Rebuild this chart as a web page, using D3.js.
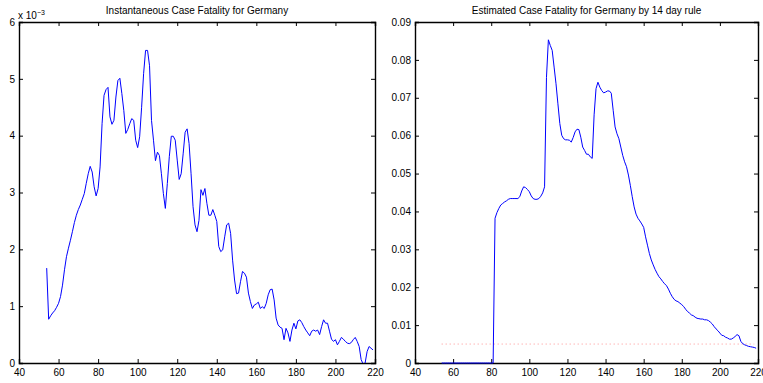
<!DOCTYPE html>
<html>
<head>
<meta charset="utf-8">
<script src="https://cdn.jsdelivr.net/npm/d3@7"></script>
<style>
  body { margin: 0; background: #fff; }
  svg { display: block; font-family: "Liberation Sans", Arial, sans-serif; }
  .axis path, .axis line { stroke: #000; }
  .axis text { fill: #000; font-size: 10px; }
</style>
</head>
<body>
<script>
// instantaneous case fatality, in units of 1e-3, days 54..219
const instStart = 54
const instValues = [
  1.67, 0.77, 0.83, 0.88, 0.92, 0.98, 1.05, 1.17, 1.37, 1.64,
  1.87, 2.02, 2.16, 2.31, 2.47, 2.60, 2.70, 2.78, 2.88, 2.98,
  3.16, 3.33, 3.46, 3.36, 3.10, 2.94, 3.07, 3.45, 4.21, 4.71,
  4.81, 4.85, 4.33, 4.20, 4.27, 4.68, 4.97, 5.01, 4.74, 4.44,
  4.04, 4.11, 4.21, 4.30, 4.27, 3.92, 3.79, 3.98, 4.50, 5.09,
  5.50, 5.50, 5.23, 4.27, 3.92, 3.56, 3.71, 3.65, 3.33, 2.98,
  2.72, 3.16, 3.63, 3.99, 3.99, 3.92, 3.57, 3.23, 3.33, 3.68,
  4.06, 4.12, 3.86, 3.33, 2.75, 2.43, 2.31, 2.51, 3.05, 2.95,
  3.07, 2.81, 2.60, 2.60, 2.70, 2.60, 2.49, 2.05, 1.96, 1.99,
  2.22, 2.43, 2.46, 2.28, 1.81, 1.46, 1.22, 1.23, 1.43, 1.61,
  1.58, 1.51, 1.23, 1.08, 0.96, 1.02, 1.04, 1.07, 0.96, 0.99,
  0.96, 1.05, 1.20, 1.29, 1.30, 1.11, 0.79, 0.67, 0.63, 0.61,
  0.41, 0.61, 0.53, 0.38, 0.58, 0.70, 0.60, 0.74, 0.76, 0.71,
  0.64, 0.58, 0.53, 0.48, 0.56, 0.58, 0.56, 0.58, 0.50, 0.64,
  0.76, 0.70, 0.70, 0.56, 0.42, 0.38, 0.41, 0.32, 0.38, 0.45,
  0.42, 0.38, 0.35, 0.34, 0.36, 0.41, 0.45, 0.38, 0.29, 0.06,
  -0.02, 0.00, 0.20, 0.29, 0.26, 0.23
]

// estimated case fatality by 14 day rule, days 54..219
const estStart = 54
const estValues = [
  0, 0, 0, 0, 0, 0, 0, 0, 0, 0,
  0, 0, 0, 0, 0, 0, 0, 0, 0, 0,
  0, 0, 0, 0, 0, 0, 0, 0,
  0.0382, 0.0397, 0.0408, 0.0417, 0.0421, 0.0425, 0.0428, 0.0432, 0.0434, 0.0434,
  0.0434, 0.0434, 0.0434, 0.0439, 0.0454, 0.0465, 0.0463, 0.0458, 0.0452, 0.0441,
  0.0434, 0.0432, 0.0432, 0.0434, 0.0440, 0.0449, 0.0465, 0.0754, 0.0853, 0.0838,
  0.0825, 0.0781, 0.0737, 0.0684, 0.0632, 0.0601, 0.0592, 0.0589, 0.0589, 0.0588,
  0.0583, 0.0595, 0.0610, 0.0617, 0.0616, 0.0596, 0.0570, 0.0561, 0.0551, 0.0551,
  0.0544, 0.0540, 0.0655, 0.0724, 0.0741, 0.0728, 0.0719, 0.0713, 0.0715, 0.0718,
  0.0718, 0.0712, 0.0667, 0.0623, 0.0605, 0.0592, 0.0570, 0.0548, 0.0531, 0.0518,
  0.0496, 0.0469, 0.0439, 0.0412, 0.0393, 0.0382, 0.0375, 0.0367, 0.0358, 0.0333,
  0.0311, 0.0289, 0.0272, 0.0259, 0.0247, 0.0237, 0.0228, 0.0222, 0.0215, 0.0209,
  0.0204, 0.0195, 0.0184, 0.0175, 0.0168, 0.0164, 0.0162, 0.0158, 0.0154, 0.0149,
  0.0142, 0.0136, 0.0132, 0.0127, 0.0125, 0.0121, 0.0118, 0.0117, 0.0116, 0.0116,
  0.0114, 0.0114, 0.0112, 0.0108, 0.0103, 0.0096, 0.0090, 0.0085, 0.0079, 0.0073,
  0.0072, 0.0068, 0.0066, 0.0063, 0.0063, 0.0066, 0.0070, 0.0075, 0.0072, 0.0057,
  0.0051, 0.0048, 0.0046, 0.0044, 0.0043, 0.0042, 0.0041, 0.0039
]

// dotted reference level on the right panel
const refDays = [54, 218]
const refValue = 0.005

const xTicks = [40, 60, 80, 100, 120, 140, 160, 180, 200, 220]
const instTicks = [0, 1, 2, 3, 4, 5, 6]
const estTicks = [0, 0.01, 0.02, 0.03, 0.04, 0.05, 0.06, 0.07, 0.08, 0.09]

const width = 763
const height = 383

const svg = d3.select('body').append('svg')
  .attr('width', width)
  .attr('height', height)

function drawPanel(opts) {
  const { left, right, top, bottom, yMax, yTicks, yFormat, title, id } = opts
  const x = d3.scaleLinear().domain([40, 220]).range([left, right])
  const y = d3.scaleLinear().domain([0, yMax]).range([bottom, top])
  const tick = 4

  svg.append('clipPath').attr('id', id)
    .append('rect')
    .attr('x', left).attr('y', top)
    .attr('width', right - left).attr('height', bottom - top)

  const g = svg.append('g')

  // ticks inside the box on all four sides
  g.append('g').attr('class', 'axis')
    .attr('transform', `translate(0,${bottom})`)
    .call(d3.axisBottom(x).tickValues(xTicks).tickSize(-tick).tickPadding(6).tickFormat(d3.format('d')))
  g.append('g').attr('class', 'axis')
    .attr('transform', `translate(0,${top})`)
    .call(d3.axisTop(x).tickValues(xTicks).tickSize(-tick).tickFormat(''))
  g.append('g').attr('class', 'axis')
    .attr('transform', `translate(${left},0)`)
    .call(d3.axisLeft(y).tickValues(yTicks).tickSize(-tick).tickPadding(4).tickFormat(yFormat))
  g.append('g').attr('class', 'axis')
    .attr('transform', `translate(${right},0)`)
    .call(d3.axisRight(y).tickValues(yTicks).tickSize(-tick).tickFormat(''))

  g.selectAll('.axis path').attr('stroke-width', 1.4)
  g.selectAll('.axis line').attr('stroke-width', 1)
  g.selectAll('.axis text').attr('font-family', '"Liberation Sans", Arial, sans-serif')

  g.append('text')
    .attr('x', (left + right) / 2)
    .attr('y', 14)
    .attr('text-anchor', 'middle')
    .attr('font-size', 10)
    .text(title)

  return { x, y, g }
}

// left panel
const p1 = drawPanel({
  left: 19, right: 375, top: 22, bottom: 363,
  yMax: 6, yTicks: instTicks, yFormat: d3.format('d'),
  title: 'Instantaneous Case Fatality for Germany', id: 'clip1'
})

const instLine = d3.line()
  .x((d, i) => p1.x(instStart + i))
  .y(d => p1.y(d))

p1.g.append('path')
  .datum(instValues)
  .attr('clip-path', 'url(#clip1)')
  .attr('fill', 'none')
  .attr('stroke', '#0000ff')
  .attr('stroke-width', 1)
  .attr('d', instLine)

const expo = p1.g.append('text')
  .attr('x', 18)
  .attr('y', 19)
  .attr('font-size', 10)
expo.append('tspan').text('x 10')
expo.append('tspan').attr('dy', -4).attr('font-size', 7).text('−3')

// right panel
const p2 = drawPanel({
  left: 415, right: 758, top: 22, bottom: 363,
  yMax: 0.09, yTicks: estTicks, yFormat: d => (d === 0 ? '0' : d3.format('.2f')(d)),
  title: 'Estimated Case Fatality for Germany by 14 day rule', id: 'clip2'
})

p2.g.append('line')
  .attr('x1', p2.x(refDays[0]))
  .attr('x2', p2.x(refDays[1]))
  .attr('y1', p2.y(refValue))
  .attr('y2', p2.y(refValue))
  .attr('stroke', '#ff6666')
  .attr('stroke-opacity', 0.7)
  .attr('stroke-width', 1)
  .attr('stroke-dasharray', '1,3')

const estLine = d3.line()
  .x((d, i) => p2.x(estStart + i))
  .y(d => p2.y(d))

p2.g.append('path')
  .datum(estValues)
  .attr('fill', 'none')
  .attr('stroke', '#0000ff')
  .attr('stroke-width', 1)
  .attr('d', estLine)
</script>
</body>
</html>
